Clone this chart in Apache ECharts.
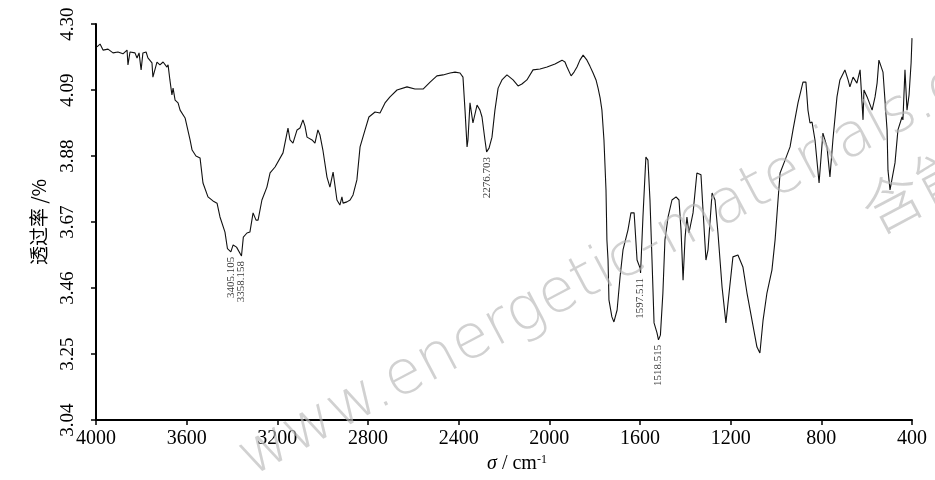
<!DOCTYPE html>
<html>
<head>
<meta charset="utf-8">
<script src="https://cdn.jsdelivr.net/npm/echarts@6/dist/echarts.min.js"></script>
<style>
  html, body { margin: 0; padding: 0; background: #fff; }
  #ir { width: 935px; height: 480px; }
</style>
</head>
<body>
<div id="ir"></div>
<script>
// 红外光谱 读图数据 (波数 cm-1, 透过率)
var wavenumber = [
  3996, 3982, 3969, 3947, 3925, 3903, 3881, 3863, 3859, 3850, 3828, 3819, 3810, 3801, 3793, 3779, 3771, 3753, 3749, 3731,
  3718, 3704, 3687, 3682, 3674, 3665, 3660, 3651, 3638, 3629, 3607, 3599, 3585, 3576, 3559, 3541, 3528, 3506, 3484, 3466,
  3453, 3431, 3420, 3405.105, 3395, 3380, 3358.158, 3350, 3334, 3321, 3307, 3294, 3285, 3268, 3246, 3232, 3210, 3175, 3153, 3144,
  3131, 3113, 3100, 3087, 3078, 3069, 3047, 3034, 3021, 3012, 2999, 2981, 2968, 2954, 2946, 2937, 2924, 2915, 2910, 2893,
  2879, 2866, 2849, 2835, 2813, 2796, 2769, 2747, 2725, 2703, 2672, 2628, 2593, 2557, 2526, 2496, 2469, 2438, 2416, 2394,
  2381, 2372, 2363, 2359, 2350, 2337, 2319, 2306, 2297, 2284, 2276.703, 2266, 2253, 2240, 2226, 2209, 2187, 2160, 2138, 2121,
  2099, 2072, 2041, 2010, 1975, 1944, 1931, 1922, 1904, 1891, 1878, 1865, 1851, 1834, 1821, 1807, 1794, 1785, 1776, 1768,
  1759, 1750, 1746, 1741, 1737, 1724, 1715, 1701, 1688, 1675, 1653, 1640, 1626, 1622, 1613, 1600, 1597.511, 1587, 1574, 1570,
  1565, 1556, 1547, 1538, 1525, 1518.515, 1510, 1499, 1490, 1476, 1459, 1441, 1428, 1419, 1410, 1401, 1393, 1384, 1366, 1349,
  1331, 1322, 1309, 1300, 1282, 1269, 1256, 1238, 1221, 1207, 1190, 1168, 1146, 1128, 1106, 1084, 1071, 1057, 1040, 1018,
  1004, 991, 982, 960, 938, 925, 903, 881, 868, 859, 850, 841, 828, 810, 793, 775, 762, 749, 731, 718,
  696, 682, 674, 660, 643, 629, 616, 612, 598, 576, 563, 554, 546, 528, 510, 506, 497, 475, 462, 444,
  440, 431, 422, 413, 404, 400
];
var transmittance = [
  4.227, 4.236, 4.217, 4.220, 4.208, 4.211, 4.205, 4.217, 4.170, 4.211, 4.208, 4.192, 4.208, 4.154, 4.208, 4.211, 4.192, 4.176, 4.131, 4.179,
  4.170, 4.179, 4.163, 4.170, 4.122, 4.074, 4.096, 4.058, 4.049, 4.026, 4.001, 3.995, 3.931, 3.899, 3.880, 3.874, 3.794, 3.750, 3.737, 3.730,
  3.686, 3.638, 3.585, 3.575, 3.597, 3.590, 3.562, 3.622, 3.635, 3.638, 3.699, 3.676, 3.676, 3.740, 3.781, 3.826, 3.845, 3.890, 3.969, 3.931,
  3.921, 3.963, 3.969, 3.995, 3.975, 3.940, 3.931, 3.921, 3.963, 3.947, 3.899, 3.813, 3.781, 3.829, 3.826, 3.740, 3.724, 3.750, 3.730, 3.734,
  3.740, 3.756, 3.804, 3.909, 3.963, 4.004, 4.020, 4.017, 4.049, 4.068, 4.090, 4.100, 4.093, 4.093, 4.115, 4.135, 4.138, 4.144, 4.147, 4.144,
  4.131, 4.026, 3.909, 3.931, 4.049, 3.985, 4.042, 4.026, 4.004, 3.931, 3.893, 3.905, 3.940, 4.026, 4.096, 4.122, 4.138, 4.122, 4.103, 4.109,
  4.122, 4.154, 4.157, 4.163, 4.173, 4.185, 4.179, 4.163, 4.135, 4.147, 4.163, 4.185, 4.201, 4.185, 4.166, 4.144, 4.122, 4.096, 4.065, 4.026,
  3.931, 3.772, 3.613, 3.549, 3.422, 3.368, 3.352, 3.390, 3.495, 3.581, 3.645, 3.699, 3.699, 3.654, 3.549, 3.524, 3.508, 3.686, 3.877, 3.883,
  3.867, 3.740, 3.549, 3.349, 3.317, 3.295, 3.310, 3.444, 3.613, 3.686, 3.740, 3.750, 3.740, 3.645, 3.485, 3.622, 3.686, 3.635, 3.699, 3.826,
  3.820, 3.708, 3.549, 3.581, 3.762, 3.740, 3.635, 3.463, 3.349, 3.444, 3.559, 3.565, 3.527, 3.444, 3.358, 3.272, 3.253, 3.358, 3.444, 3.517,
  3.613, 3.740, 3.826, 3.867, 3.909, 3.963, 4.049, 4.115, 4.115, 4.026, 3.985, 3.988, 3.931, 3.794, 3.953, 3.909, 3.813, 3.931, 4.068, 4.122,
  4.154, 4.122, 4.100, 4.131, 4.112, 4.154, 3.995, 4.090, 4.068, 4.026, 4.068, 4.112, 4.185, 4.147, 3.963, 3.835, 3.772, 3.858, 3.963, 4.004,
  3.995, 4.154, 4.026, 4.074, 4.176, 4.255
];

// 标注的吸收峰
var peakWn = [3405.105, 3358.158, 2276.703, 1597.511, 1518.515];
var peakVal = [3.575, 3.562, 3.893, 3.508, 3.295];

// 坐标轴刻度
var yTicks = [3.04, 3.25, 3.46, 3.67, 3.88, 4.09, 4.30];
var xTicks = [4000, 3600, 3200, 2800, 2400, 2000, 1600, 1200, 800, 400];

var spectrum = wavenumber.map(function (w, i) { return [w, transmittance[i]]; });
var peaks = peakWn.map(function (w, i) { return [w, peakVal[i]]; });

var serif = '"Liberation Serif", "DejaVu Serif", serif';
var chart = echarts.init(document.getElementById('ir'));

var option = {
  animation: false,
  backgroundColor: '#fff',
  grid: { left: 96, right: 23, top: 24, bottom: 60 },
  xAxis: {
    type: 'value',
    inverse: true,
    min: xTicks[xTicks.length - 1],
    max: xTicks[0],
    interval: 400,
    name: '{i|σ} / cm{s|-1}',
    nameLocation: 'middle',
    nameGap: 32,
    nameTextStyle: {
      color: '#000',
      fontFamily: serif,
      fontSize: 20,
      padding: [0, 0, 0, 26],
      rich: {
        i: { fontStyle: 'italic', fontFamily: serif, fontSize: 20, color: '#000' },
        s: { fontFamily: serif, fontSize: 12, verticalAlign: 'top', color: '#000' }
      }
    },
    axisLine: { lineStyle: { color: '#000', width: 2 } },
    axisTick: { length: 5, lineStyle: { color: '#000', width: 1.5 } },
    axisLabel: {
      color: '#000', fontFamily: serif, fontSize: 20, margin: 9,
      formatter: function (v) { return String(v); }
    },
    splitLine: { show: false }
  },
  yAxis: {
    type: 'value',
    min: yTicks[0],
    max: yTicks[yTicks.length - 1],
    name: '透过率 /%',
    nameLocation: 'middle',
    nameGap: 48,
    nameRotate: 90,
    nameTextStyle: { color: '#000', fontFamily: '"Noto Sans CJK SC", sans-serif', fontSize: 19 },
    axisLine: { show: true, lineStyle: { color: '#000', width: 2 } },
    axisTick: { show: true, length: 5, customValues: yTicks, lineStyle: { color: '#000', width: 1.5 } },
    axisLabel: {
      customValues: yTicks,
      rotate: 90,
      margin: 18,
      color: '#000',
      fontFamily: serif,
      fontSize: 19,
      formatter: function (v) { return v.toFixed(2); }
    },
    splitLine: { show: false }
  },
  series: [
    {
      name: 'IR',
      type: 'line',
      data: spectrum,
      symbol: 'none',
      smooth: false,
      lineStyle: { color: '#111', width: 1.1 },
      z: 2
    },
    {
      name: 'peaks',
      type: 'scatter',
      data: peaks,
      symbolSize: 0,
      label: {
        show: true,
        position: 'bottom',
        distance: 5,
        rotate: 90,
        align: 'right',
        verticalAlign: 'middle',
        color: '#000',
        fontFamily: serif,
        fontSize: 11,
        formatter: function (p) { return p.value[0].toFixed(3); }
      },
      z: 3
    }
  ],
  // 水印
  graphic: [
    {
      type: 'text',
      x: 258, y: 490,
      rotation: 28 * Math.PI / 180,
      z: 100,
      silent: true,
      style: {
        text: 'www.energetic-materials.org.cn',
        fontFamily: '"DejaVu Sans", sans-serif',
        fontWeight: 200,
        fontSize: 61,
        fill: 'rgba(185,185,185,0.65)',
        textVerticalAlign: 'bottom'
      }
    },
    {
      type: 'text',
      x: 880, y: 242,
      rotation: 28 * Math.PI / 180,
      z: 100,
      silent: true,
      style: {
        text: '含能材料',
        fontFamily: '"Noto Sans CJK SC", sans-serif',
        fontWeight: 300,
        fontSize: 60,
        fill: 'rgba(185,185,185,0.65)',
        textVerticalAlign: 'bottom'
      }
    }
  ]
};

chart.setOption(option);
</script>
</body>
</html>
